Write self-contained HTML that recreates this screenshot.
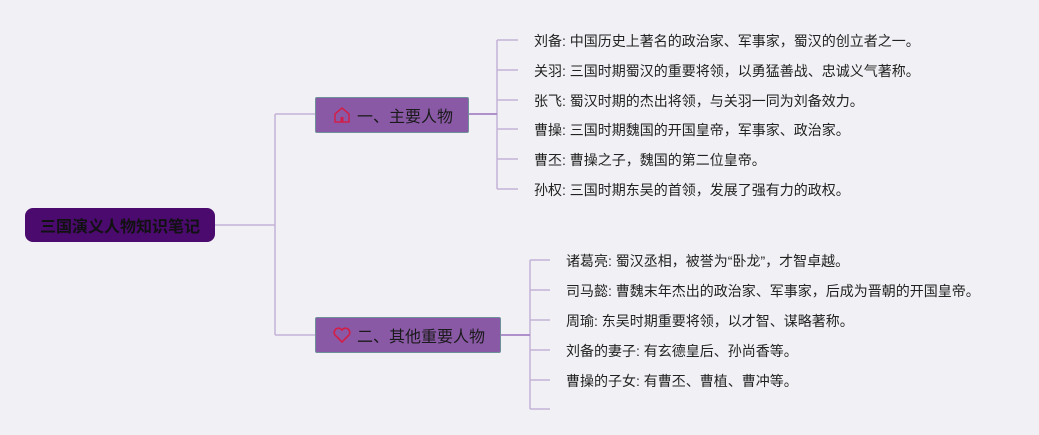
<!DOCTYPE html>
<html><head><meta charset="utf-8"><style>
body{margin:0;width:1039px;height:435px;background:#f1f0f4;position:relative;overflow:hidden;font-family:"Liberation Sans","Noto Sans CJK SC",sans-serif;}
.t{position:absolute;font-size:14px;color:#222;white-space:nowrap;line-height:16px;}
.box{position:absolute;background:#8a59a6;border:1px solid #6f8f9a;border-radius:2px;box-sizing:border-box;font-size:16px;color:#1a1a1a;display:flex;align-items:center;}
</style></head><body>
<svg width="1039" height="435" style="position:absolute;left:0;top:0">
<g stroke="#c4b2d8" stroke-width="1.5" fill="none">
<path d="M214 225 H275 M275 114 V335 M275 114 H315 M275 335 H315"/>
<path d="M468 114 H497 M497 40 V189"/>
<path d="M497 40 H518 M497 70 H518 M497 100 H518 M497 129 H518 M497 159 H518 M497 189 H518"/>
<path d="M500 335 H530 M530 260 V409"/>
<path d="M530 260 H550 M530 290 H550 M530 320 H550 M530 350 H550 M530 380 H550 M530 409 H550"/>
</g>
<g stroke="#a07cc0" stroke-width="1.5"><path d="M468 114 H497 M500 335 H530"/></g>
</svg>
<div style="position:absolute;left:25px;top:208px;width:190px;height:34px;background:#4a0a6e;border-radius:8px;display:flex;align-items:center;justify-content:center;font-size:16px;font-weight:bold;color:#111;">三国演义人物知识笔记</div>
<div class="box" style="left:315px;top:97px;width:154px;height:36px;padding-left:17px;">
<svg width="18" height="18" viewBox="0 0 18 18" style="margin-right:6px"><path d="M2 16 V8 L9 2 L16 8 V16 Z" fill="none" stroke="#d0204a" stroke-width="1.5"/><rect x="7.5" y="11" width="3" height="5" fill="#d0204a"/></svg>一、主要人物</div>
<div class="box" style="left:315px;top:317px;width:186px;height:36px;padding-left:17px;">
<svg width="18" height="16" viewBox="0 0 18 16" style="margin-right:6px"><path d="M9 15 L2 8 A4 4 0 0 1 9 3 A4 4 0 0 1 16 8 Z" fill="none" stroke="#d0204a" stroke-width="1.7"/></svg>二、其他重要人物</div>
<div class="t" style="left:534px;top:33px">刘备: 中国历史上著名的政治家、军事家，蜀汉的创立者之一。</div>
<div class="t" style="left:534px;top:63px">关羽: 三国时期蜀汉的重要将领，以勇猛善战、忠诚义气著称。</div>
<div class="t" style="left:534px;top:93px">张飞: 蜀汉时期的杰出将领，与关羽一同为刘备效力。</div>
<div class="t" style="left:534px;top:122px">曹操: 三国时期魏国的开国皇帝，军事家、政治家。</div>
<div class="t" style="left:534px;top:152px">曹丕: 曹操之子，魏国的第二位皇帝。</div>
<div class="t" style="left:534px;top:182px">孙权: 三国时期东吴的首领，发展了强有力的政权。</div>
<div class="t" style="left:566px;top:253px">诸葛亮: 蜀汉丞相，被誉为“卧龙”，才智卓越。</div>
<div class="t" style="left:566px;top:283px">司马懿: 曹魏末年杰出的政治家、军事家，后成为晋朝的开国皇帝。</div>
<div class="t" style="left:566px;top:313px">周瑜: 东吴时期重要将领，以才智、谋略著称。</div>
<div class="t" style="left:566px;top:343px">刘备的妻子: 有玄德皇后、孙尚香等。</div>
<div class="t" style="left:566px;top:373px">曹操的子女: 有曹丕、曹植、曹冲等。</div>
</body></html>
